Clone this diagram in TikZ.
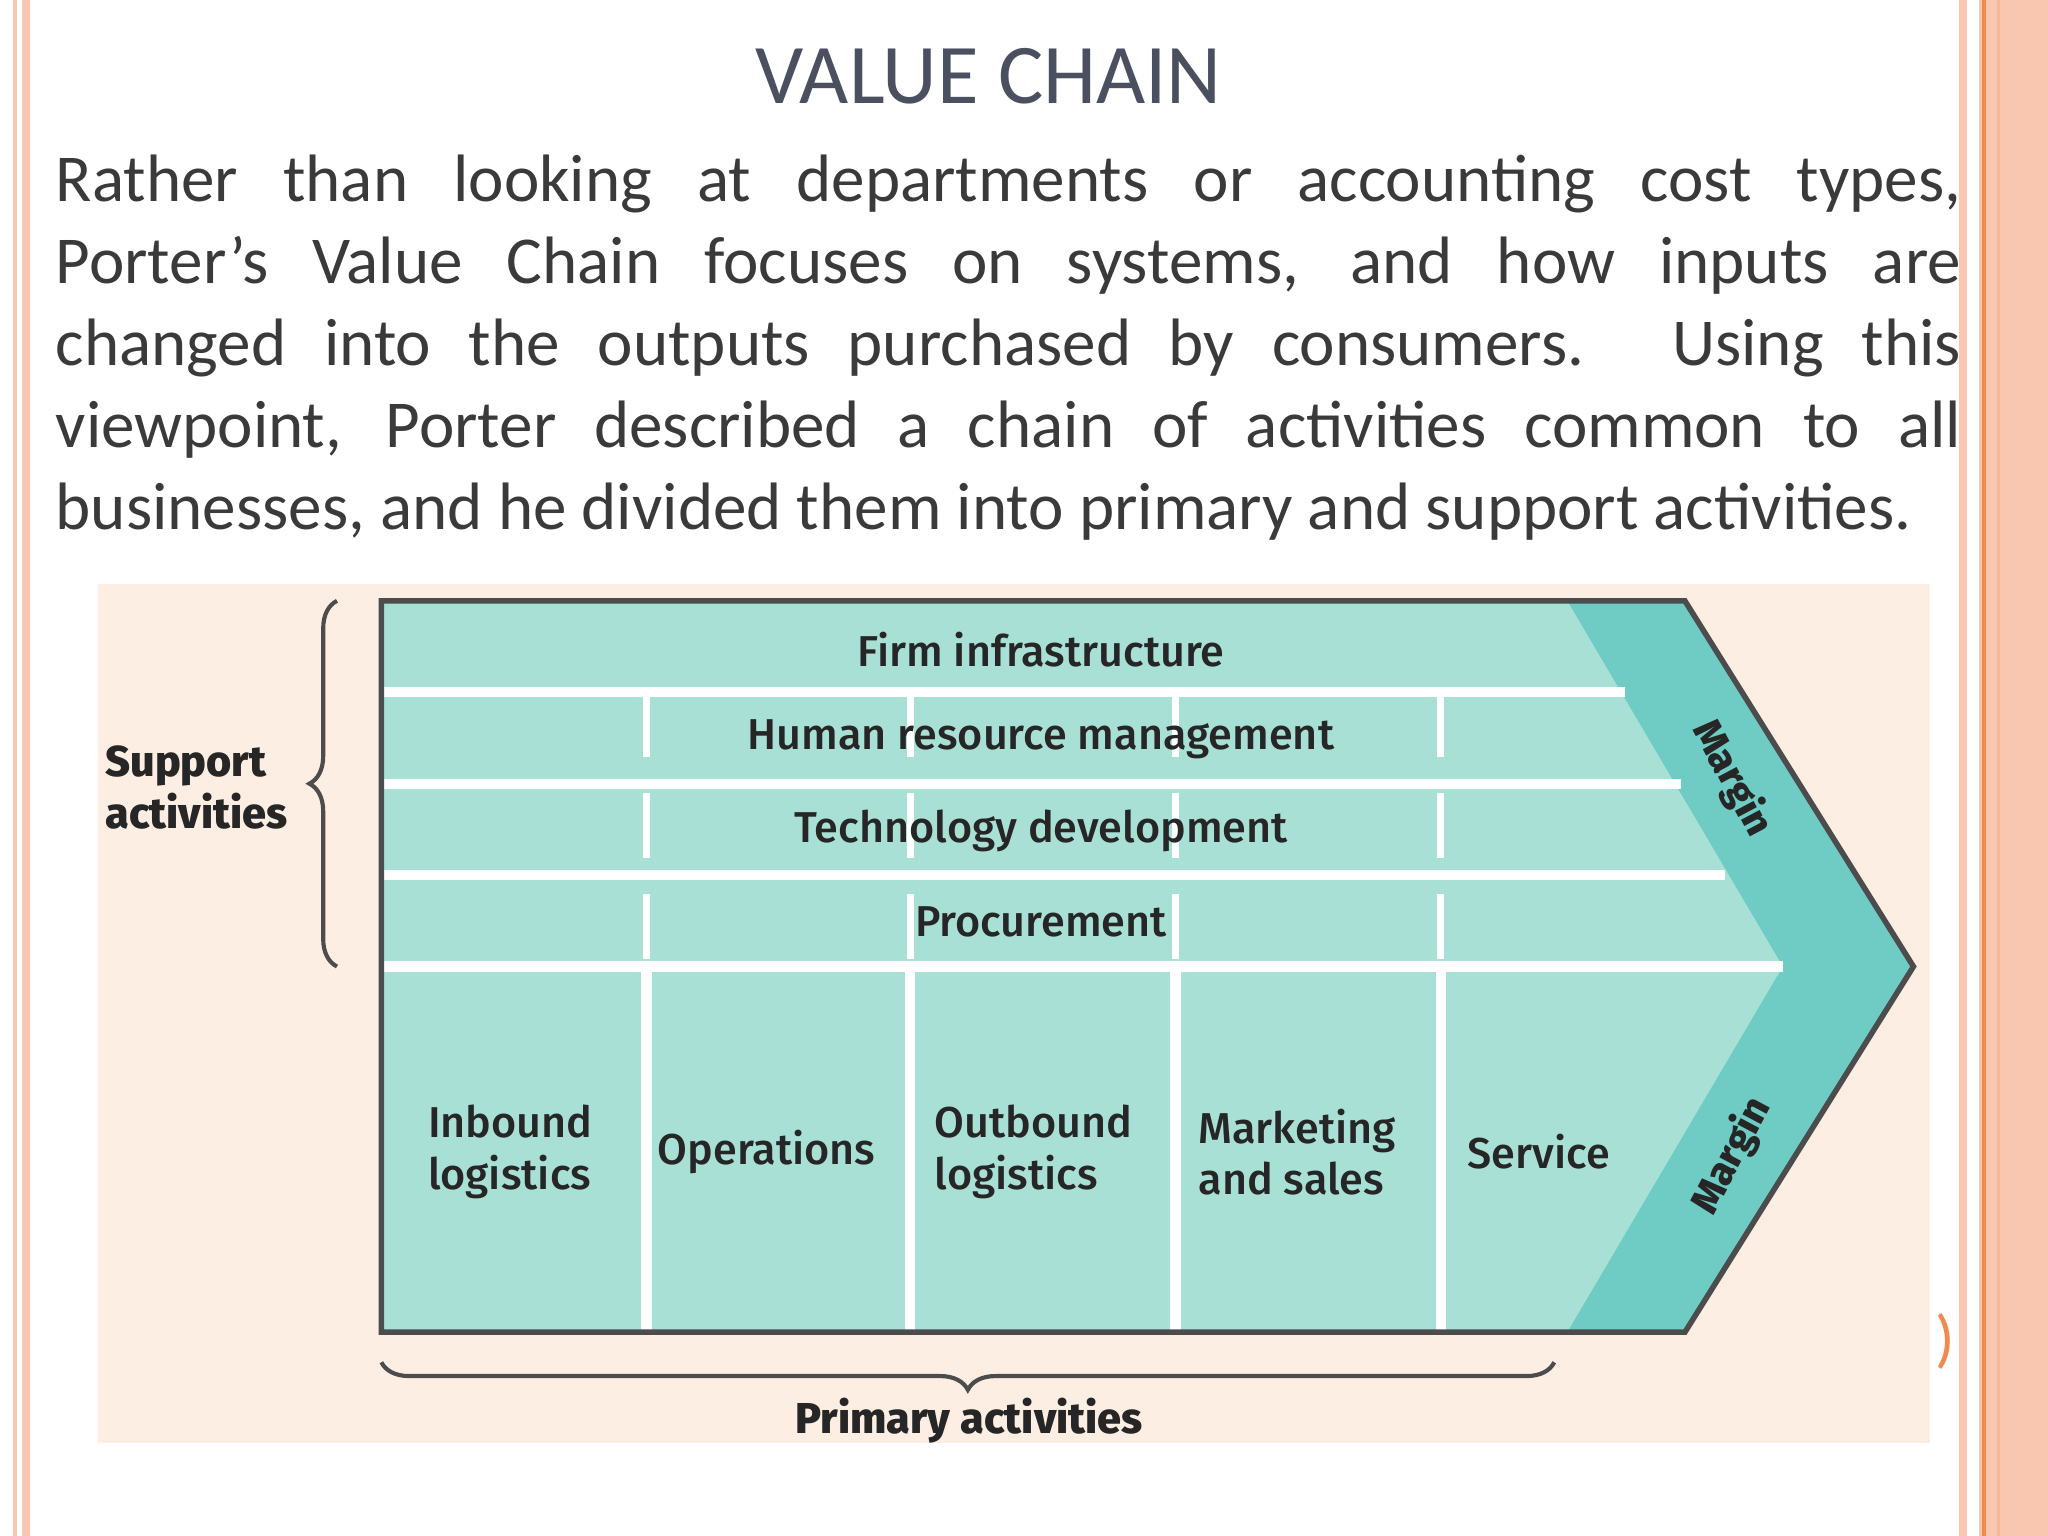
\documentclass[tikz,border=0pt]{standalone}
\usepackage{fontspec}
\setmainfont{Carlito}
\newfontfamily\diag{Fira Sans Medium}
\usetikzlibrary{decorations.pathreplacing}
\definecolor{pinkb}{HTML}{F9C6B0}
\definecolor{orb}{HTML}{F08A50}
\definecolor{peach}{HTML}{FCEEE2}
\definecolor{tealL}{HTML}{A9E0D6}
\definecolor{tealD}{HTML}{6ECCC4}
\definecolor{txt}{HTML}{3A3A3A}
\definecolor{ttl}{HTML}{4A5060}
\tikzset{lab/.style={font=\diag\fontsize{9.4}{11.2}\selectfont, text=black!85, inner sep=0pt},
 wl/.style={white, line width=2.2pt},
 brc/.style={decorate, decoration={brace, amplitude=6pt}, line width=0.9pt, black!70}}
\begin{document}
\begin{tikzpicture}[x=0.01cm,y=-0.01cm]
\useasboundingbox (0,0) rectangle (1568,1176);
\fill[white] (0,0) rectangle (1568,1176);
% borders
\fill[pinkb] (10,0) rectangle (13,1176);
\fill[pinkb] (17,0) rectangle (23,1176);
\fill[pinkb] (1500,0) rectangle (1506,1176);
\fill[pinkb] (1515,0) rectangle (1568,1176);
\draw[orb, line width=0.8pt] (1519,0) -- (1519,1176);
\draw[orb!60, line width=0.6pt] (1530,0) -- (1530,1176);
% title and body
\node[text=ttl, font=\fontsize{18.5}{22}\selectfont] (title) at (757,58) {VALUE CHAIN};
\node[text=txt, anchor=north west, text width=14.58cm, align=justify, inner sep=0pt,
 font=\fontsize{14.6}{17.85}\selectfont] (body) at (42,118)
 {\hyphenpenalty=10000 Rather than looking at departments or accounting cost types,\linebreak Porter's Value Chain focuses on systems, and how inputs are\linebreak changed into the outputs purchased by consumers. Using this\linebreak viewpoint, Porter described a chain of activities common to all\linebreak businesses, and he divided them into primary and support activities.};
% diagram background
\fill[peach] (75,447) rectangle (1478,1105);
% chevron
\fill[tealL] (292,460) -- (1290,460) -- (1465,740) -- (1290,1020) -- (292,1020) -- cycle;
\fill[tealD] (1200,460) -- (1290,460) -- (1465,740) -- (1290,1020) -- (1200,1020) -- (1365,740) -- cycle;
% grid lines
\draw[wl] (292,530) -- (1244,530);
\draw[wl] (292,600) -- (1287,600);
\draw[wl] (292,670) -- (1321,670);
\draw[wl] (292,740) -- (1365,740);
\foreach \x in {495,697,900,1103}{
 \draw[wl] (\x,740) -- (\x,1020);
 \draw[white, line width=1.4pt, dash pattern=on 14pt off 8pt] (\x,530) -- (\x,740);
}
\draw[black!70, line width=1.2pt] (292,460) -- (1290,460) -- (1465,740) -- (1290,1020) -- (292,1020) -- cycle;
% labels
\node[lab] (fi) at (797,497) {Firm infrastructure};
\node[lab] (hr) at (797,566) {Human resource management};
\node[lab] (td) at (797,636) {Technology development};
\node[lab] (pr) at (797,706) {Procurement};
\node[lab, align=left, anchor=west] (il) at (327,882) {Inbound\\logistics};
\node[lab] (op) at (587,882) {Operations};
\node[lab, align=left, anchor=west] (ol) at (715,882) {Outbound\\logistics};
\node[lab, align=left, anchor=west] (ms) at (917,882) {Marketing\\and sales};
\node[lab] (sv) at (1178,882) {Service};
\node[lab, rotate=-62, font=\diag\bfseries\fontsize{8.6}{9}\selectfont] (m1) at (1326,596) {Margin};
\node[lab, rotate=62, font=\diag\bfseries\fontsize{8.6}{9}\selectfont] (m2) at (1326,885) {Margin};
\node[lab, align=left, anchor=west, font=\diag\bfseries\fontsize{9.4}{11.2}\selectfont] (sa) at (80,603) {Support\\activities};
\node[lab, font=\diag\bfseries\fontsize{9.4}{11.2}\selectfont] (pa) at (742,1088) {Primary activities};
% braces
\coordinate (b1) at (258,740); \coordinate (b2) at (258,460);
\draw[brc] (b1) -- (b2);
\coordinate (b3) at (1190,1043); \coordinate (b4) at (292,1043);
\draw[brc] (b3) -- (b4);
\node[text=orb, font=\fontsize{14}{14}\selectfont] (art) at (1489,1027) {)};
\end{tikzpicture}
\end{document}
